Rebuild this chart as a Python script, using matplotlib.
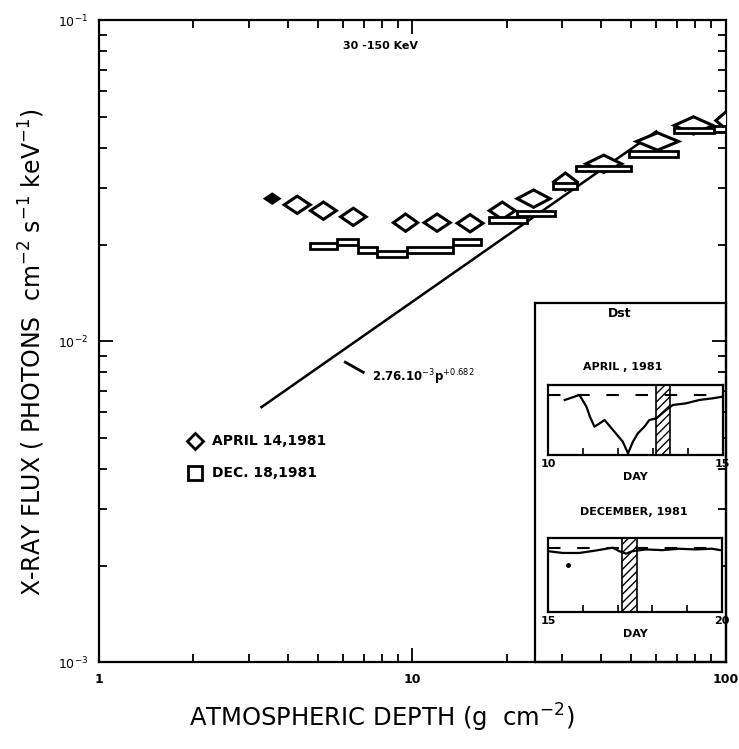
import numpy as np
import matplotlib.pyplot as plt
from matplotlib.patches import Polygon, Rectangle

plt.rcParams['font.family'] = ['DejaVu Sans']

# April 14, 1981 balloon flight (diamonds): depth bin edges and flux
apr_lo = [3.40, 3.90, 4.73, 5.90, 8.70, 10.9, 13.9, 17.6, 21.6, 28.3, 35.8, 51.9, 68.5, 93.0]
apr_hi = [3.75, 4.72, 5.72, 7.12, 10.4, 13.2, 16.8, 21.3, 27.5, 33.5, 46.5, 70.7, 91.0, 108.0]
apr_flux = [0.0278, 0.0266, 0.0255, 0.0244, 0.0234, 0.0234, 0.0233, 0.0255,
            0.0278, 0.0314, 0.0357, 0.0419, 0.0470, 0.0487]

# Dec 18, 1981 balloon flight (boxes)
dec_lo = [4.72, 5.76, 6.72, 7.73, 9.64, 13.5, 17.5, 21.6, 28.2, 33.2, 49.0, 68.5, 91.5]
dec_hi = [5.76, 6.72, 7.73, 9.64, 13.5, 16.5, 23.3, 28.6, 33.6, 49.7, 70.3, 91.5, 100.0]
dec_flux = [0.0198, 0.0204, 0.0192, 0.0187, 0.0192, 0.0204, 0.0239, 0.0250,
            0.0305, 0.0345, 0.0384, 0.0453, 0.0459]

# power-law fit 2.76e-3 * p^0.682
fit_norm = 2.76e-3
fit_index = 0.682
fit_range = [3.3, 60.0]

# Dst insets
apr_days = [10.48, 10.9, 11.1, 11.2, 11.33, 11.48, 11.62, 12.14, 12.29, 12.43, 12.57,
            12.76, 12.9, 13.1, 13.38, 13.57, 13.95, 14.33, 14.71, 15.0]
apr_dst = [-15, 0, -35, -65, -95, -85, -75, -140, -175, -140, -115,
           -95, -75, -70, -45, -30, -25, -15, -10, -5]
apr_band = [13.1, 13.5]

dec_days = [15.0, 15.43, 15.9, 16.38, 16.86, 17.05, 17.24, 17.43, 17.81, 18.29,
            18.76, 19.24, 19.71, 19.95, 20.0]
dec_dst = [-8, -13, -13, -6, 2, -8, -15, -8, -3, -5, -1, -3, -1, -5, -5]
dec_band = [17.14, 17.57]

fig = plt.figure(figsize=(7.39, 7.49), dpi=100)
ax = fig.add_axes([0.134, 0.116, 0.848, 0.857])
ax.set_xscale('log')
ax.set_yscale('log')
ax.set_xlim(1, 100)
ax.set_ylim(1e-3, 1e-1)

# diamonds
dh = 10 ** 0.027
for i, (lo, hi, f) in enumerate(zip(apr_lo, apr_hi, apr_flux)):
    xc = np.sqrt(lo * hi)
    h = dh if i else 10 ** 0.014
    pts = [(lo, f), (xc, f * h), (hi, f), (xc, f / h)]
    ax.add_patch(Polygon(pts, closed=True, facecolor='black' if i == 0 else 'white',
                         edgecolor='black', lw=2.2, zorder=3, clip_on=True))

# boxes
bh = 10 ** 0.009
for lo, hi, f in zip(dec_lo, dec_hi, dec_flux):
    ax.add_patch(Rectangle((lo, f / bh), hi - lo, f * bh - f / bh,
                           facecolor='white', edgecolor='black', lw=2.0, zorder=4))

xf = np.geomspace(fit_range[0], fit_range[1], 50)
ax.plot(xf, fit_norm * xf ** fit_index, color='black', lw=1.8, zorder=2)
ax.plot([6.11, 6.97], [8.6e-3, 8.0e-3], color='black', lw=2)
ax.text(7.45, 7.72e-3, r'2.76.10$^{-3}$p$^{+0.682}$', fontsize=8.5,
        fontweight='bold', ha='left', va='center')

ax.text(7.9, 0.083, '30 -150 KeV', fontsize=8, fontweight='bold', ha='center', va='center')

# legend drawn by hand
ax.plot([2.03], [4.9e-3], marker='D', ms=8, mfc='white', mec='black', mew=2)
ax.text(2.3, 4.9e-3, 'APRIL 14,1981', fontsize=10, fontweight='bold', va='center')
ax.plot([2.03], [3.87e-3], marker='s', ms=10, mfc='white', mec='black', mew=2)
ax.text(2.3, 3.87e-3, 'DEC. 18,1981', fontsize=10, fontweight='bold', va='center')

ax.tick_params(which='both', direction='in', top=True, right=True, width=1.3,
               labelsize=9, pad=8)
ax.tick_params(which='major', length=10)
ax.tick_params(which='minor', length=6)
ax.set_xticks([1, 10, 100])
ax.set_xticklabels(['1', '10', '100'], fontweight='bold')
for s in ax.spines.values():
    s.set_linewidth(1.6)

fig.text(0.517, 0.041, r'ATMOSPHERIC DEPTH (g  cm$^{-2}$)', fontsize=17.5,
         ha='center', va='center')
fig.text(0.043, 0.53, r'X-RAY FLUX ( PHOTONS  cm$^{-2}$ s$^{-1}$ keV$^{-1}$)',
         fontsize=17, rotation=90, ha='center', va='center')

# inset frame
ins = fig.add_axes([0.724, 0.116, 0.258, 0.4795], facecolor='none')
ins.set_xticks([])
ins.set_yticks([])
for s in ins.spines.values():
    s.set_linewidth(1.6)
fig.text(0.839, 0.582, 'Dst', fontsize=9, fontweight='bold', ha='center', va='center')
fig.text(0.843, 0.510, 'APRIL , 1981', fontsize=8, fontweight='bold', ha='center', va='center')
fig.text(0.857, 0.316, 'DECEMBER, 1981', fontsize=8, fontweight='bold', ha='center', va='center')


def dst_panel(rect, days, dst, band, d0):
    p = fig.add_axes(rect)
    p.set_xlim(d0, d0 + 5)
    p.set_ylim(-180, 30)
    p.axhline(0, color='black', lw=1.5, ls=(0, (6, 8)))
    p.plot(days, dst, color='black', lw=1.6)
    p.axvspan(band[0], band[1], facecolor='white', edgecolor='black', hatch='////', lw=1.2)
    p.set_yticks([])
    p.set_xticks(range(d0, d0 + 6))
    p.set_xticklabels([str(d0), '', '', '', '', str(d0 + 5)], fontsize=8, fontweight='bold')
    p.tick_params(axis='x', direction='in', length=5, width=1.2, pad=3)
    p.set_xlabel('DAY', fontsize=8, fontweight='bold', labelpad=2)
    for s in p.spines.values():
        s.set_linewidth(1.6)
    return p


dst_panel([0.7415, 0.3925, 0.2365, 0.0935], apr_days, apr_dst, apr_band, 10)
pd = dst_panel([0.7415, 0.183, 0.2355, 0.099], dec_days, dec_dst, dec_band, 15)
pd.plot([15.57], [-46], marker='o', ms=2.5, color='black')

fig.savefig('out.png', dpi=100)
